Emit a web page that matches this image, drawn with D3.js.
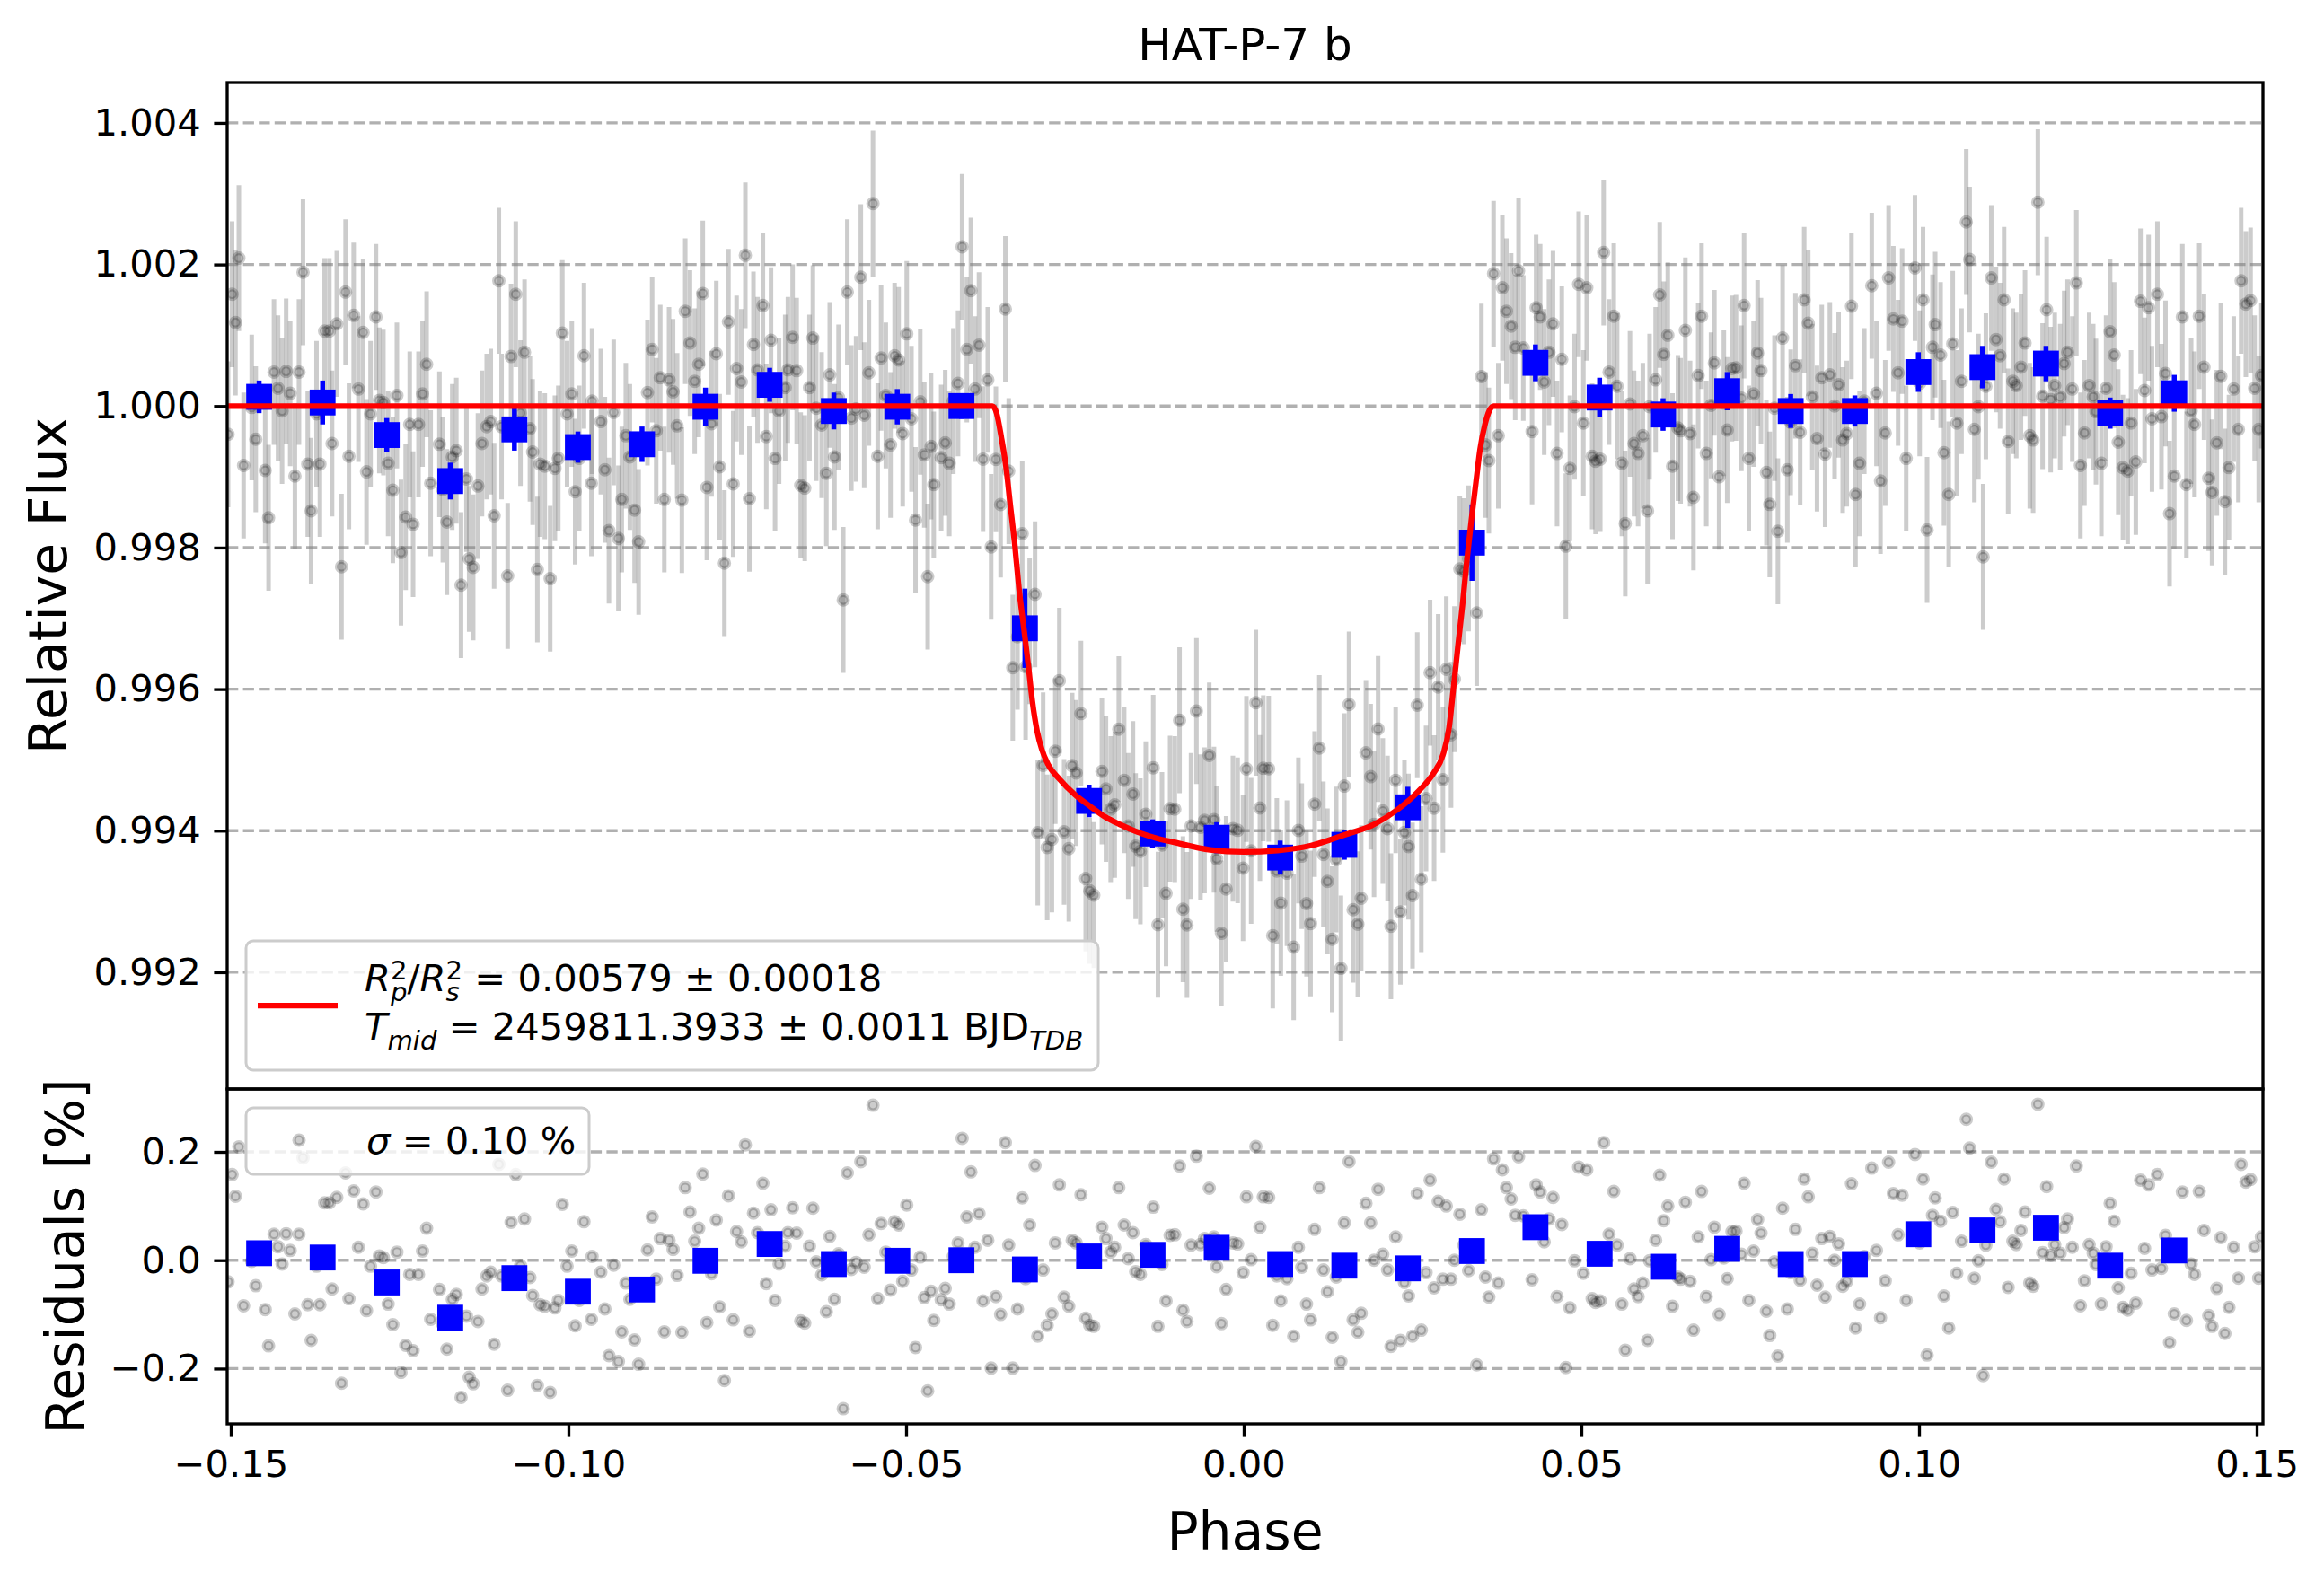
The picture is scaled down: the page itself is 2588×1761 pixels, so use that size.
<!DOCTYPE html>
<html>
<head>
<meta charset="utf-8">
<title>HAT-P-7 b</title>
<script src="https://d3js.org/d3.v7.min.js" charset="utf-8"></script>
<style>
  html, body { margin: 0; padding: 0; background: #fff; }
  svg text { font-family: "DejaVu Sans", sans-serif; }
</style>
</head>
<body>
<script>
// raw points: orbital phase and residual (flux - model) in percent
var phase = [
  -0.1504, -0.1498, -0.1493, -0.1488, -0.1481, -0.1469, -0.1463, -0.1449, -0.1444, -0.1436,
  -0.1430, -0.1424, -0.1418, -0.1412, -0.1405, -0.1399, -0.1393, -0.1386, -0.1381, -0.1373,
  -0.1368, -0.1361, -0.1354, -0.1350, -0.1343, -0.1336, -0.1330, -0.1325, -0.1318, -0.1311,
  -0.1304, -0.1299, -0.1293, -0.1285, -0.1280, -0.1274, -0.1267, -0.1260, -0.1254, -0.1248,
  -0.1241, -0.1235, -0.1230, -0.1222, -0.1216, -0.1210, -0.1204, -0.1191, -0.1186, -0.1180,
  -0.1172, -0.1166, -0.1159, -0.1151, -0.1147, -0.1141, -0.1134, -0.1128, -0.1121, -0.1115,
  -0.1110, -0.1103, -0.1099, -0.1090, -0.1085, -0.1078, -0.1071, -0.1065, -0.1057, -0.1053,
  -0.1046, -0.1042, -0.1035, -0.1027, -0.1020, -0.1015, -0.1009, -0.1002, -0.0995, -0.0990,
  -0.0984, -0.0977, -0.0966, -0.0965,
  -0.0952, -0.0946, -0.0940, -0.0933, -0.0926, -0.0921, -0.0915, -0.0909, -0.0902, -0.0896,
  -0.0883, -0.0876, -0.0870, -0.0864, -0.0858, -0.0851, -0.0845, -0.0839, -0.0832, -0.0827,
  -0.0820, -0.0813, -0.0807, -0.0801, -0.0795, -0.0788, -0.0781, -0.0776, -0.0769, -0.0763,
  -0.0756, -0.0751, -0.0744, -0.0738, -0.0732, -0.0726, -0.0720, -0.0712, -0.0707, -0.0700,
  -0.0694, -0.0688, -0.0679, -0.0675, -0.0668, -0.0662, -0.0656, -0.0650, -0.0643, -0.0638,
  -0.0633, -0.0625, -0.0618, -0.0613, -0.0606, -0.0600, -0.0593, -0.0587, -0.0581, -0.0574,
  -0.0567, -0.0562, -0.0555, -0.0549, -0.0542, -0.0537, -0.0530, -0.0523, -0.0517, -0.0511,
  -0.0505, -0.0499, -0.0492, -0.0486, -0.0479, -0.0473, -0.0468, -0.0463, -0.0459,
  -0.0448, -0.0442, -0.0436, -0.0430, -0.0423, -0.0417, -0.0410, -0.0404, -0.0398, -0.0392,
  -0.0386, -0.0379, -0.0374, -0.0367, -0.0360, -0.0353, -0.0348, -0.0342, -0.0335, -0.0328,
  -0.0323, -0.0317, -0.0309, -0.0305, -0.0297, -0.0291, -0.0284, -0.0279, -0.0273, -0.0266,
  -0.0259, -0.0254, -0.0248, -0.0241, -0.0234, -0.0228, -0.0222, -0.0210, -0.0204, -0.0197,
  -0.0191, -0.0185, -0.0177, -0.0171, -0.0164, -0.0160, -0.0153, -0.0145, -0.0134, -0.0127,
  -0.0121, -0.0115, -0.0109, -0.0102, -0.0095, -0.0090, -0.0084, -0.0078, -0.0070, -0.0064,
  -0.0058, -0.0051, -0.0044, -0.0040, -0.0033, -0.0026, -0.0016, -0.0009, -0.0001, 0.0004,
  0.0011, 0.0018, 0.0024, 0.0029,
  0.0037, 0.0043, 0.0049, 0.0055, 0.0064, 0.0074, 0.0081, 0.0086, 0.0093, 0.0099,
  0.0105, 0.0112, 0.0118, 0.0124, 0.0131, 0.0137, 0.0144, 0.0149, 0.0156, 0.0162,
  0.0169, 0.0174, 0.0181, 0.0188, 0.0193, 0.0199, 0.0206, 0.0213, 0.0218, 0.0225,
  0.0232, 0.0238, 0.0244, 0.0250, 0.0257, 0.0263, 0.0270, 0.0276, 0.0282, 0.0288,
  0.0295, 0.0300, 0.0307, 0.0312, 0.0320, 0.0326, 0.0333, 0.0345, 0.0352, 0.0358,
  0.0363, 0.0370, 0.0377, 0.0383, 0.0389, 0.0396, 0.0402, 0.0407, 0.0414, 0.0427,
  0.0433, 0.0439, 0.0445, 0.0452, 0.0458, 0.0464, 0.0471, 0.0477, 0.0483, 0.0490,
  0.0496, 0.0503, 0.0508, 0.0516, 0.0521,
  0.0528, 0.0533, 0.0541, 0.0548, 0.0553, 0.0560, 0.0565, 0.0572, 0.0578, 0.0584,
  0.0591, 0.0598, 0.0601, 0.0610, 0.0616, 0.0622, 0.0628, 0.0635, 0.0643, 0.0647,
  0.0654, 0.0661, 0.0666, 0.0673, 0.0678, 0.0685, 0.0692, 0.0697, 0.0704, 0.0711,
  0.0716, 0.0723, 0.0729, 0.0737, 0.0741, 0.0748, 0.0755, 0.0761, 0.0766, 0.0774,
  0.0779, 0.0786, 0.0791, 0.0798, 0.0805, 0.0810, 0.0817, 0.0824, 0.0830, 0.0836,
  0.0842, 0.0849, 0.0856, 0.0861, 0.0868, 0.0875, 0.0881, 0.0887, 0.0893, 0.0900,
  0.0906, 0.0912, 0.0919, 0.0930, 0.0937, 0.0943, 0.0950, 0.0955, 0.0962, 0.0969,
  0.0975, 0.0981, 0.0994, 0.1001,
  0.1006, 0.1012, 0.1020, 0.1024, 0.1032, 0.1037, 0.1044, 0.1050, 0.1056, 0.1063,
  0.1070, 0.1075, 0.1082, 0.1088, 0.1095, 0.1099, 0.1107, 0.1114, 0.1120, 0.1126,
  0.1132, 0.1139, 0.1144, 0.1151, 0.1157, 0.1164, 0.1169, 0.1176, 0.1183, 0.1189,
  0.1195, 0.1201, 0.1209, 0.1215, 0.1220, 0.1227, 0.1233, 0.1239, 0.1245, 0.1252,
  0.1258, 0.1262, 0.1270, 0.1277, 0.1283, 0.1289, 0.1295, 0.1302, 0.1309, 0.1314,
  0.1321, 0.1328, 0.1334, 0.1340, 0.1345, 0.1353, 0.1359, 0.1365, 0.1371, 0.1378,
  0.1390, 0.1396, 0.1403, 0.1408, 0.1415, 0.1422, 0.1429, 0.1434, 0.1441, 0.1447,
  0.1453, 0.1459, 0.1466, 0.1473, 0.1477, 0.1484, 0.1491, 0.1497, 0.1503, 0.1507
];
var resid = [
  -0.040, 0.158, 0.118, 0.209, -0.084, -0.002, -0.047, -0.091, -0.158, 0.048,
  0.025, -0.007, 0.049, 0.018, -0.099, 0.048, 0.189, -0.082, -0.148, -0.011,
  -0.082, 0.106, 0.106, -0.053, 0.116, -0.227, 0.161, -0.071, 0.128, 0.024,
  0.104, -0.093, -0.011, 0.126, 0.008, 0.005, -0.081, -0.119, 0.015, -0.207,
  -0.157, -0.026, -0.167, -0.026, 0.017, 0.059, -0.109, -0.054, -0.118, -0.164,
  -0.072, -0.063, -0.253, -0.103, -0.216, -0.228, -0.113, -0.053, -0.029, -0.022,
  -0.155, 0.177, -0.029, -0.240, 0.070, 0.158, -0.010, 0.076, -0.032, -0.065,
  -0.231, -0.082, -0.085, -0.244, -0.088, -0.074, 0.103, -0.011, 0.017, -0.121,
  -0.074, 0.071, -0.109, 0.007,
  -0.022, -0.090, -0.176, -0.009, -0.187, -0.132, -0.042, -0.072, -0.147, -0.192,
  0.019, 0.080, -0.035, 0.040, -0.132, 0.037, 0.020, -0.028, -0.133, 0.134,
  0.089, 0.035, 0.059, 0.159, -0.115, -0.025, 0.074, -0.086, -0.222, 0.119,
  -0.110, 0.053, 0.034, 0.213, -0.131, 0.087, 0.051, 0.142, -0.043, 0.093,
  -0.074, -0.007, 0.026, 0.051, 0.097, 0.050, -0.112, -0.116, 0.026, 0.096,
  -0.003, -0.027, -0.095, 0.044, -0.072, 0.012, -0.274, 0.161, -0.017, -0.004,
  0.182, -0.013, 0.047, 0.286, -0.071, 0.068, 0.015, -0.055, 0.071, 0.065,
  -0.039, 0.102, -0.018, -0.161, 0.006, -0.069, -0.241, -0.057, -0.111,
  -0.073, -0.052, -0.081, 0.007, 0.032, 0.225, 0.080, 0.163, 0.024, 0.086,
  -0.075, 0.037, -0.199, -0.067, -0.100, 0.217, 0.028, -0.199, -0.090, 0.115,
  -0.034, 0.065, 0.175, -0.140, -0.018, -0.120, -0.099, 0.032, 0.139, -0.068,
  -0.085, 0.037, 0.032, 0.121, -0.107, -0.120, -0.122, 0.061, 0.040, 0.015,
  0.024, 0.134, 0.065, 0.003, 0.051, -0.021, -0.026, 0.029, 0.098, -0.122,
  -0.008, -0.075, 0.046, 0.047, 0.174, -0.092, -0.113, 0.028, 0.192, 0.029,
  0.040, 0.133, 0.043, -0.012, -0.117, -0.054, 0.032, 0.030, -0.023, 0.117,
  0.001, 0.210, 0.061, 0.117,
  0.116, -0.120, -0.029, -0.075, -0.034, -0.140, 0.024, -0.013, -0.081, -0.110,
  0.057, 0.134, -0.018, -0.058, -0.142, -0.031, -0.187, 0.069, 0.182, -0.110,
  -0.133, -0.098, 0.105, 0.069, 0.000, 0.131, 0.011, -0.018, -0.159, 0.043,
  -0.148, -0.041, -0.066, -0.140, 0.123, -0.129, -0.023, 0.148, -0.051, 0.109,
  -0.035, 0.100, -0.035, 0.000, 0.085, 0.028, -0.019, -0.193, 0.093, -0.031,
  -0.068, 0.187, -0.042, 0.167, 0.134, 0.113, 0.083, 0.191, 0.082, -0.036,
  0.139, 0.126, 0.034, 0.076, 0.116, -0.067, 0.066, -0.198, -0.088, -0.001,
  0.172, -0.024, 0.167, -0.071, -0.078,
  -0.075, 0.217, 0.048, 0.127, 0.028, -0.081, -0.166, 0.003, -0.053, -0.067,
  -0.042, -0.148, -0.001, 0.037, 0.157, 0.073, 0.100, -0.085, -0.031, -0.035,
  0.107, -0.039, -0.129, 0.043, 0.127, -0.067, 0.001, 0.061, -0.100, 0.004,
  -0.034, 0.053, 0.054, 0.011, 0.142, -0.074, 0.017, 0.075, 0.050, -0.094,
  -0.139, -0.003, -0.177, 0.096, -0.090, -0.023, 0.057, -0.037, 0.150, 0.117,
  0.013, -0.046, 0.040, -0.068, 0.044, 0.000, 0.030, -0.048, -0.039, 0.141,
  -0.125, -0.081, 0.007, 0.170, 0.018, -0.106, -0.038, 0.181, 0.123, 0.047,
  0.120, -0.074, 0.195, 0.032,
  0.150, -0.175, 0.083, 0.115, 0.072, -0.066, -0.125, 0.088, -0.024, 0.035,
  0.260, 0.207, -0.033, -0.001, -0.213, 0.028, 0.181, 0.094, 0.071, 0.150,
  -0.050, 0.035, 0.029, 0.055, 0.089, -0.042, -0.048, 0.288, 0.014, 0.136,
  0.009, 0.029, 0.013, 0.060, 0.076, 0.024, 0.174, -0.084, -0.038, 0.029,
  0.013, -0.008, -0.081, 0.025, 0.105, 0.072, -0.051, -0.087, -0.092, -0.024,
  -0.079, 0.148, 0.022, 0.139, -0.018, 0.158, -0.015, 0.046, -0.152, -0.099,
  0.126, -0.111, -0.007, -0.026, 0.127, 0.055, -0.102, -0.122, -0.052, 0.042,
  -0.135, -0.087, 0.024, -0.033, 0.177, 0.144, 0.149, 0.025, -0.033, 0.043
];
var fluxErr = 0.00103;

// transit model curve
var modelPhase = [-0.1506, -0.0372, -0.0366, -0.0359, -0.0352, -0.0346, -0.0339, -0.0333, -0.0326, -0.0319,
  -0.0313, -0.0306, -0.0299, -0.0290, -0.0273, -0.0250, -0.0228, -0.0206, -0.0184, -0.0157,
  -0.0131, -0.0100, -0.0050, 0.0000, 0.0050, 0.0100, 0.0149, 0.0193, 0.0228, 0.0259,
  0.0281, 0.0295, 0.0304, 0.0310, 0.0317, 0.0324, 0.0330, 0.0337, 0.0344, 0.0350,
  0.0357, 0.0364, 0.0370, 0.1510];
var modelFlux = [1.0, 1.0, 0.99990, 0.99956, 0.99914, 0.99863, 0.99804, 0.99744, 0.99689, 0.99634,
  0.99583, 0.99541, 0.99515, 0.99494, 0.99473, 0.99451, 0.99435, 0.99420, 0.99409, 0.99398,
  0.99390, 0.99383, 0.99373, 0.99370, 0.99372, 0.99379, 0.99394, 0.99409, 0.99430, 0.99456,
  0.99481, 0.99507, 0.99545, 0.99596, 0.99659, 0.99719, 0.99778, 0.99838, 0.99893, 0.99939,
  0.99973, 0.99994, 1.0, 1.0];

// binned points
var binPhase = [-0.1458, -0.1364, -0.1269, -0.1175, -0.1080, -0.0986, -0.0891, -0.0797, -0.0702, -0.0607,
  -0.0513, -0.0418, -0.0324, -0.0229, -0.0135, -0.0040, 0.0054, 0.0149, 0.0243, 0.0338,
  0.0432, 0.0527, 0.0621, 0.0716, 0.0810, 0.0905, 0.0999, 0.1094, 0.1188, 0.1283, 0.1378];
var binFlux = [1.00013, 1.00005, 0.99959, 0.99894, 0.99967, 0.99942, 0.99946, 0.99999, 1.00030, 0.99993,
  0.99999, 1.00000, 0.99686, 0.99442, 0.99396, 0.99390, 0.99362, 0.99380, 0.99433, 0.99807,
  1.00061, 1.00012, 0.99988, 1.00021, 0.99993, 0.99993, 1.00048, 1.00055, 1.00060, 0.99990, 1.00018];
var binErr = [0.00023, 0.00031, 0.00024, 0.00026, 0.00030, 0.00022, 0.00025, 0.00027, 0.00024, 0.00026,
  0.00025, 0.00018, 0.00056, 0.00023, 0.00020, 0.00022, 0.00024, 0.00021, 0.00029, 0.00054,
  0.00026, 0.00028, 0.00023, 0.00027, 0.00024, 0.00022, 0.00028, 0.00030, 0.00025, 0.00022, 0.00026];
var binResid = [0.013, 0.005, -0.041, -0.106, -0.033, -0.058, -0.054, -0.001, 0.030, -0.007,
  -0.001, 0.000, -0.017, 0.007, 0.010, 0.023, -0.007, -0.010, -0.015, 0.017,
  0.061, 0.012, -0.012, 0.021, -0.007, -0.007, 0.048, 0.055, 0.060, -0.010, 0.018];

var phaseTicks = [-0.15, -0.10, -0.05, 0.00, 0.05, 0.10, 0.15];
var fluxTicks = [0.992, 0.994, 0.996, 0.998, 1.000, 1.002, 1.004];
var residTicks = [-0.2, 0.0, 0.2];

var W = 2588, H = 1761;
var pL = 253, pR = 2520, pT = 92, pM = 1213, pB = 1586;
var fs = 41.67;       // 10 pt at 300 dpi
var lw = 3.33;        // 0.8 pt

var svg = d3.select("body").append("svg")
    .attr("width", W).attr("height", H);
svg.append("rect").attr("width", W).attr("height", H).attr("fill", "#fff");

var x = d3.scaleLinear().domain([-0.15053, 0.15093]).range([pL, pR]);
var yTop = d3.scaleLinear().domain([0.99035, 1.00457]).range([pM, pT]);
var yBot = d3.scaleLinear().domain([-0.302, 0.316]).range([pB, pM]);
var model = d3.scaleLinear().domain(modelPhase).range(modelFlux);

var pts = phase.map(function (p, i) {
  return { p: p, r: resid[i], f: model(p) + resid[i] / 100 };
});
var bins = binPhase.map(function (p, i) {
  return { p: p, f: binFlux[i], e: binErr[i], r: binResid[i] };
});

var defs = svg.append("defs");
defs.append("clipPath").attr("id", "clipTop").append("rect")
    .attr("x", pL).attr("y", pT).attr("width", pR - pL).attr("height", pM - pT);
defs.append("clipPath").attr("id", "clipBot").append("rect")
    .attr("x", pL).attr("y", pM).attr("width", pR - pL).attr("height", pB - pM);

function grid(g, ticks, y) {
  g.selectAll("line.grid").data(ticks).enter().append("line")
      .attr("class", "grid")
      .attr("x1", pL).attr("x2", pR)
      .attr("y1", function (d) { return y(d); })
      .attr("y2", function (d) { return y(d); })
      .attr("stroke", "#b0b0b0").attr("stroke-width", lw)
      .attr("stroke-dasharray", "12.3,5.3");
}

// ---------- top panel ----------
var gTop = svg.append("g").attr("clip-path", "url(#clipTop)");
grid(gTop, fluxTicks, yTop);

gTop.selectAll("line.err").data(pts).enter().append("line")
    .attr("class", "err")
    .attr("x1", function (d) { return x(d.p); })
    .attr("x2", function (d) { return x(d.p); })
    .attr("y1", function (d) { return yTop(d.f - fluxErr); })
    .attr("y2", function (d) { return yTop(d.f + fluxErr); })
    .attr("stroke", "#808080").attr("stroke-opacity", 0.4).attr("stroke-width", 5);

gTop.selectAll("circle.pt").data(pts).enter().append("circle")
    .attr("class", "pt")
    .attr("cx", function (d) { return x(d.p); })
    .attr("cy", function (d) { return yTop(d.f); })
    .attr("r", 5.4)
    .attr("fill", "#000").attr("fill-opacity", 0.2)
    .attr("stroke", "#000").attr("stroke-opacity", 0.2).attr("stroke-width", 4.2);

gTop.selectAll("line.berr").data(bins).enter().append("line")
    .attr("class", "berr")
    .attr("x1", function (d) { return x(d.p); })
    .attr("x2", function (d) { return x(d.p); })
    .attr("y1", function (d) { return yTop(d.f - d.e); })
    .attr("y2", function (d) { return yTop(d.f + d.e); })
    .attr("stroke", "#0000ff").attr("stroke-width", 5.5);

gTop.selectAll("rect.bin").data(bins).enter().append("rect")
    .attr("class", "bin")
    .attr("x", function (d) { return x(d.p) - 14.4; })
    .attr("y", function (d) { return yTop(d.f) - 14.4; })
    .attr("width", 28.8).attr("height", 28.8)
    .attr("fill", "#0000ff");

var line = d3.line()
    .x(function (d) { return x(d[0]); })
    .y(function (d) { return yTop(d[1]); })
    .curve(d3.curveMonotoneX);
gTop.append("path")
    .datum(d3.zip(modelPhase, modelFlux))
    .attr("d", line)
    .attr("fill", "none").attr("stroke", "#ff0000").attr("stroke-width", 6.25)
    .attr("stroke-linejoin", "round");

// ---------- bottom panel ----------
var gBot = svg.append("g").attr("clip-path", "url(#clipBot)");
grid(gBot, residTicks, yBot);

gBot.selectAll("circle.pt").data(pts).enter().append("circle")
    .attr("class", "pt")
    .attr("cx", function (d) { return x(d.p); })
    .attr("cy", function (d) { return yBot(d.r); })
    .attr("r", 5.4)
    .attr("fill", "#000").attr("fill-opacity", 0.2)
    .attr("stroke", "#000").attr("stroke-opacity", 0.2).attr("stroke-width", 4.2);

gBot.selectAll("rect.bin").data(bins).enter().append("rect")
    .attr("class", "bin")
    .attr("x", function (d) { return x(d.p) - 14.4; })
    .attr("y", function (d) { return yBot(d.r) - 14.4; })
    .attr("width", 28.8).attr("height", 28.8)
    .attr("fill", "#0000ff");

// ---------- axes ----------
function styleAxis(g) {
  g.select(".domain").remove();
  g.selectAll(".tick line").attr("stroke", "#000").attr("stroke-width", lw);
  g.selectAll(".tick text").attr("font-size", fs).attr("fill", "#000")
      .attr("font-family", "DejaVu Sans, sans-serif");
}
svg.append("g").attr("transform", "translate(" + pL + ",0)")
    .call(d3.axisLeft(yTop).tickValues(fluxTicks).tickFormat(d3.format(".3f"))
      .tickSize(14.6).tickPadding(14.6))
    .call(styleAxis);
svg.append("g").attr("transform", "translate(" + pL + ",0)")
    .call(d3.axisLeft(yBot).tickValues(residTicks).tickFormat(d3.format(".1f"))
      .tickSize(14.6).tickPadding(14.6))
    .call(styleAxis);
svg.append("g").attr("transform", "translate(0," + pB + ")")
    .call(d3.axisBottom(x).tickValues(phaseTicks).tickFormat(d3.format(".2f"))
      .tickSize(14.6).tickPadding(14.6))
    .call(styleAxis);

[[pT, pM], [pM, pB]].forEach(function (r) {
  svg.append("rect").attr("x", pL).attr("y", r[0])
      .attr("width", pR - pL).attr("height", r[1] - r[0])
      .attr("fill", "none").attr("stroke", "#000").attr("stroke-width", lw);
});

// ---------- labels ----------
svg.append("text").attr("x", (pL + pR) / 2).attr("y", 67)
    .attr("text-anchor", "middle").attr("font-size", 50).text("HAT-P-7 b");
svg.append("text").attr("x", (pL + pR) / 2).attr("y", 1726)
    .attr("text-anchor", "middle").attr("font-size", 58.33).text("Phase");
svg.append("text").attr("transform", "translate(74," + (pT + pM) / 2 + ") rotate(-90)")
    .attr("text-anchor", "middle").attr("font-size", 58.33).text("Relative Flux");
svg.append("text").attr("transform", "translate(92.6," + (pM + pB) / 2 + ") rotate(-90)")
    .attr("text-anchor", "middle").attr("font-size", 58.33).text("Residuals [%]");

// ---------- legends ----------
function mathLine(g, x0, y0, runs, size) {
  var cx = x0;
  runs.forEach(function (r) {
    if (r.t) {
      var t = g.append("text").attr("x", cx).attr("y", y0).attr("font-size", size)
          .attr("font-style", r.it ? "italic" : "normal").text(r.t);
      cx += t.node().getComputedTextLength();
    }
    var w = 0;
    if (r.sup) {
      var s = g.append("text").attr("x", cx).attr("y", y0 - 0.32 * size)
          .attr("font-size", 0.7 * size).text(r.sup);
      w = Math.max(w, s.node().getComputedTextLength());
    }
    if (r.sub) {
      var b = g.append("text").attr("x", cx).attr("y", y0 + 0.27 * size)
          .attr("font-size", 0.7 * size).attr("font-style", "italic").text(r.sub);
      w = Math.max(w, b.node().getComputedTextLength());
    }
    cx += w;
  });
}

var gLeg = svg.append("g");
gLeg.append("rect").attr("x", 274).attr("y", 1048).attr("width", 949).attr("height", 144)
    .attr("rx", 8).attr("fill", "#fff").attr("fill-opacity", 0.8)
    .attr("stroke", "#cccccc").attr("stroke-width", 3);
gLeg.append("line").attr("x1", 287).attr("x2", 376).attr("y1", 1120).attr("y2", 1120)
    .attr("stroke", "#ff0000").attr("stroke-width", 6.25);
var nb = "\u00a0";
mathLine(gLeg, 406, 1104, [
  { t: "R", it: true, sup: "2", sub: "p" },
  { t: "/" },
  { t: "R", it: true, sup: "2", sub: "s" },
  { t: nb + "=" + nb + "0.00579" + nb + "\u00b1" + nb + "0.00018" }
], fs);
mathLine(gLeg, 406, 1158, [
  { t: "T", it: true, sub: "mid" },
  { t: nb + "=" + nb + "2459811.3933" + nb + "\u00b1" + nb + "0.0011" + nb + "BJD", sub: "TDB" }
], fs);

var gLeg2 = svg.append("g");
gLeg2.append("rect").attr("x", 274).attr("y", 1234).attr("width", 382).attr("height", 74)
    .attr("rx", 8).attr("fill", "#fff").attr("fill-opacity", 0.8)
    .attr("stroke", "#cccccc").attr("stroke-width", 3);
gLeg2.append("circle").attr("cx", 333).attr("cy", 1270).attr("r", 5.4)
    .attr("fill", "#000").attr("fill-opacity", 0.2)
    .attr("stroke", "#000").attr("stroke-opacity", 0.2).attr("stroke-width", 4.2);
mathLine(gLeg2, 408, 1285, [
  { t: "\u03c3", it: true },
  { t: nb + "=" + nb + "0.10" + nb + "%" }
], fs);
</script>
</body>
</html>
